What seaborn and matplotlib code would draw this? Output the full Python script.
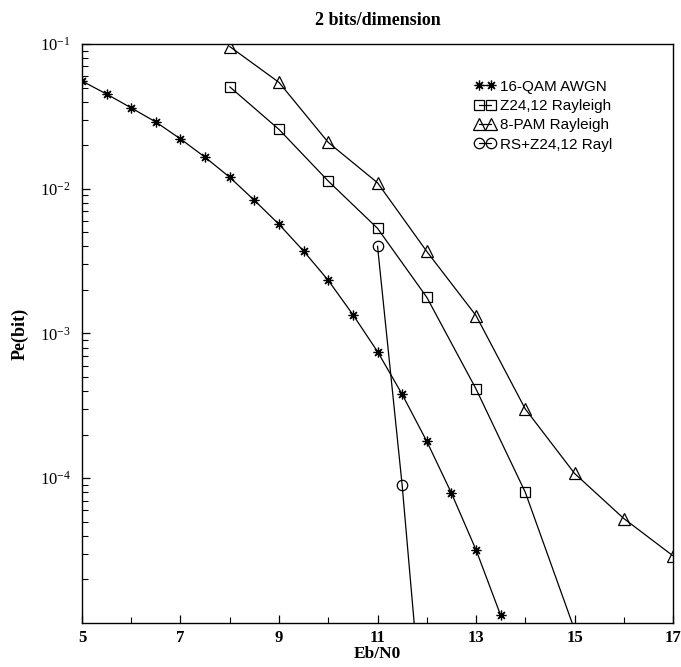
import numpy as np
import pandas as pd
import seaborn as sns
import matplotlib
matplotlib.use("Agg")
import matplotlib.pyplot as plt
from matplotlib.ticker import FixedLocator, LogLocator, NullFormatter, LogFormatterMathtext

# Datos
ebn0_qam = [5, 5.5, 6, 6.5, 7, 7.5, 8, 8.5, 9, 9.5, 10, 10.5, 11, 11.5, 12, 12.5, 13, 13.5]
pe_qam = [0.0555, 0.0451, 0.0362, 0.0289, 0.0221, 0.0165, 0.0120, 0.00832, 0.00568,
          0.00371, 0.00233, 0.00135, 7.5e-4, 3.8e-4, 1.8e-4, 7.9e-5, 3.2e-5, 1.13e-5]

ebn0_z24 = [8, 9, 10, 11, 12, 13, 14, 15]
pe_z24 = [0.0506, 0.0257, 0.0113, 5.33e-3, 1.78e-3, 4.14e-4, 8.0e-5, 9e-6]

ebn0_pam = [8, 9, 10, 11, 12, 13, 14, 15, 16, 17]
pe_pam = [0.096, 0.0543, 0.0209, 0.011, 3.69e-3, 1.33e-3, 3.01e-4, 1.08e-4, 5.27e-5, 2.91e-5]

ebn0_rs = [11, 11.5, 12]
pe_rs = [4.02e-3, 8.97e-5, 1e-6]

series = ["16-QAM AWGN", "Z24,12 Rayleigh", "8-PAM Rayleigh", "RS+Z24,12 Rayl"]
xs = [ebn0_qam, ebn0_z24, ebn0_pam, ebn0_rs]
ys = [pe_qam, pe_z24, pe_pam, pe_rs]
markers = [(8, 2, 0), "s", "^", "o"]
msizes = [7, 7, 8.5, 7.5]

sns.set_style("ticks")
plt.rcParams["mathtext.fontset"] = "stix"
plt.rcParams["xtick.direction"] = "in"
plt.rcParams["ytick.direction"] = "in"
for key in ["text.color", "axes.labelcolor", "xtick.color", "ytick.color", "axes.edgecolor"]:
    plt.rcParams[key] = "black"

fig = plt.figure(figsize=(6.81, 6.67), dpi=100)
ax = fig.add_axes([0.1204, 0.066, 0.8679, 0.868])
ax.set_yscale("log")

for name, x, y, m, ms in zip(series, xs, ys, markers, msizes):
    df = pd.DataFrame({"Eb/N0": x, "Pe": y})
    sns.lineplot(data=df, x="Eb/N0", y="Pe", ax=ax, color="black", linewidth=0.9,
                 marker=m, markersize=ms, markerfacecolor="none",
                 markeredgecolor="black", markeredgewidth=0.9, label=name)

ax.set_xlim(5, 17)
ax.set_ylim(1e-5, 0.1)

ax.xaxis.set_major_locator(FixedLocator([5, 7, 9, 11, 13, 15, 17]))
ax.xaxis.set_minor_locator(FixedLocator([6, 8, 10, 12, 14, 16]))
ax.yaxis.set_major_locator(FixedLocator([1e-4, 1e-3, 1e-2, 1e-1]))
ax.yaxis.set_major_formatter(LogFormatterMathtext())
ax.yaxis.set_minor_locator(LogLocator(base=10, subs=np.arange(2, 10)))
ax.yaxis.set_minor_formatter(NullFormatter())

ax.tick_params(axis="both", which="major", length=6, width=0.9, labelsize=12)
ax.tick_params(axis="x", which="major", pad=5)
ax.tick_params(axis="y", which="major", pad=8)
ax.tick_params(axis="both", which="minor", length=4, width=0.8)
ax.tick_params(top=False, right=False, which="both")
for lbl in ax.get_xticklabels():
    lbl.set_fontfamily("Liberation Serif")
    lbl.set_fontweight("bold")
for lbl in ax.get_yticklabels():
    lbl.set_fontfamily("Liberation Serif")

for s in ax.spines.values():
    s.set_linewidth(1.0)

ax.set_xlabel("Eb/N0", fontfamily="Liberation Serif", fontweight="bold", fontsize=12.5, labelpad=0)
ax.set_ylabel("Pe(bit)", fontfamily="Liberation Serif", fontweight="bold", fontsize=13, labelpad=8)
ax.set_title("2 bits/dimension", fontfamily="Liberation Serif", fontweight="bold", fontsize=13, pad=14)

ax.legend(loc="upper left", bbox_to_anchor=(0.64, 0.962), frameon=False, numpoints=2,
          handlelength=1.4, handletextpad=0.3, labelspacing=0.35,
          prop={"family": "Liberation Sans", "size": 11})

fig.savefig("out.png", dpi=100)
